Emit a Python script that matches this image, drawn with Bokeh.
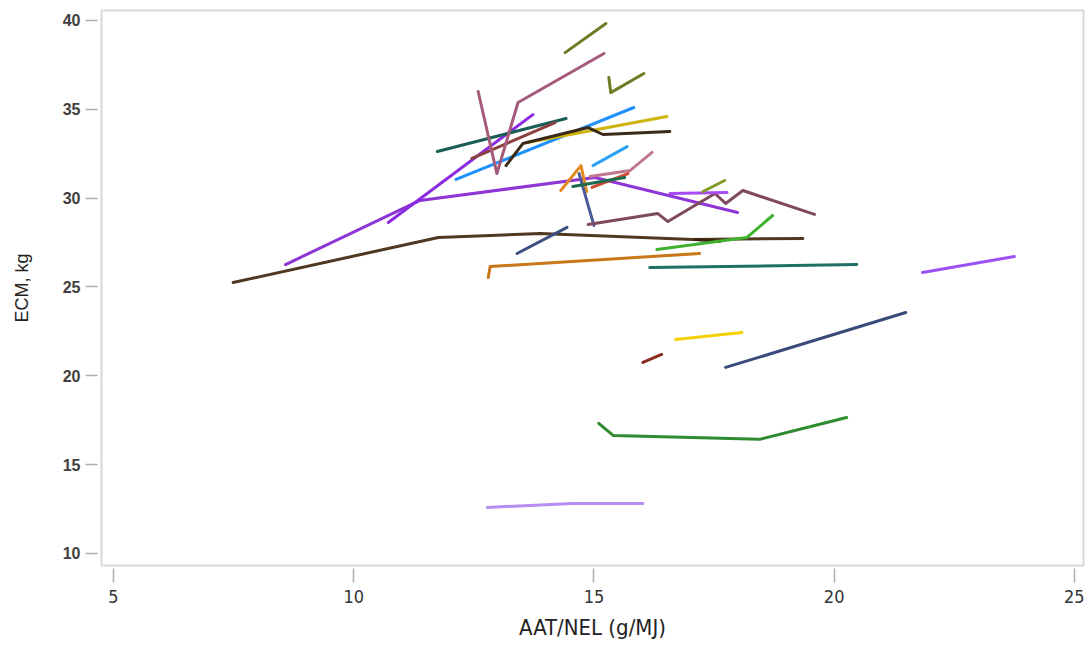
from bokeh.plotting import figure
from bokeh.embed import file_html
from bokeh.resources import INLINE
from bokeh.models import FixedTicker

# ECM yield against AAT/NEL ratio, one trajectory per herd
a01_x = [14.40, 15.25]
a01_y = [38.19, 39.83]
a02_x = [15.31, 15.35, 16.04]
a02_y = [36.79, 35.94, 37.01]
a03_x = [12.59, 12.98, 13.42, 15.21]
a03_y = [36.00, 31.38, 35.38, 38.14]
a04_x = [10.72, 13.73]
a04_y = [28.63, 34.70]
a05_x = [8.58, 11.38, 15.02, 17.99]
a05_y = [26.26, 29.87, 31.16, 29.19]
a06_x = [16.58, 17.77]
a06_y = [30.26, 30.32]
a07_x = [11.74, 14.42]
a07_y = [32.62, 34.48]
a08_x = [12.46, 14.19]
a08_y = [32.23, 34.25]
a09_x = [13.17, 13.52, 14.88, 15.19, 16.58]
a09_y = [31.83, 33.07, 33.97, 33.58, 33.75]
a10_x = [13.61, 16.52]
a10_y = [33.13, 34.59]
a11_x = [12.13, 15.83]
a11_y = [31.05, 35.10]
a12_x = [14.98, 15.69]
a12_y = [31.83, 32.90]
a13_x = [14.92, 15.75, 16.21]
a13_y = [31.22, 31.55, 32.57]
a14_x = [14.31, 14.73, 14.85]
a14_y = [30.43, 31.83, 30.37]
a15_x = [14.69, 15.00]
a15_y = [31.38, 28.46]
a16_x = [14.56, 15.64]
a16_y = [30.65, 31.16]
a17_x = [14.96, 15.71]
a17_y = [30.60, 31.38]
a18_x = [14.88, 16.33, 16.54, 17.52, 17.74, 18.10, 19.59]
a18_y = [28.51, 29.13, 28.68, 30.26, 29.70, 30.43, 29.08]
a19_x = [17.27, 17.72]
a19_y = [30.37, 30.99]
a20_x = [7.49, 11.76, 13.88, 17.06, 19.35]
a20_y = [25.25, 27.78, 28.01, 27.67, 27.73]
a21_x = [17.10, 17.62]
a21_y = [27.67, 27.56]
a22_x = [16.31, 18.18, 18.72]
a22_y = [27.11, 27.78, 29.02]
a23_x = [12.80, 12.84, 17.20]
a23_y = [25.53, 26.15, 26.88]
a24_x = [13.40, 14.44]
a24_y = [26.88, 28.35]
a25_x = [16.16, 20.47]
a25_y = [26.09, 26.26]
a26_x = [21.84, 23.75]
a26_y = [25.81, 26.71]
a27_x = [16.70, 18.08]
a27_y = [22.04, 22.44]
a28_x = [16.02, 16.41]
a28_y = [20.75, 21.20]
a29_x = [17.74, 21.49]
a29_y = [20.47, 23.56]
a30_x = [15.10, 15.40, 18.45, 20.26]
a30_y = [17.32, 16.64, 16.42, 17.65]
a31_x = [12.78, 14.56, 16.02]
a31_y = [12.59, 12.81, 12.81]

x_ticks = [5, 10, 15, 20, 25]
y_ticks = [10, 15, 20, 25, 30, 35, 40]

tracks = [
    (a20_x, a20_y, "#4f3820"), (a21_x, a21_y, "#3a2410"),
    (a23_x, a23_y, "#c87818"), (a25_x, a25_y, "#1f6f66"),
    (a22_x, a22_y, "#40b030"), (a24_x, a24_y, "#3d4f80"),
    (a05_x, a05_y, "#8e35d6"), (a04_x, a04_y, "#8a2be2"),
    (a07_x, a07_y, "#1b5e55"), (a08_x, a08_y, "#8c4040"),
    (a11_x, a11_y, "#1e90ff"), (a10_x, a10_y, "#cdb50a"),
    (a09_x, a09_y, "#3b2a18"), (a03_x, a03_y, "#a55a7c"),
    (a01_x, a01_y, "#6b7d24"), (a02_x, a02_y, "#6b7d24"),
    (a12_x, a12_y, "#2ea0f5"), (a13_x, a13_y, "#c27790"),
    (a14_x, a14_y, "#e08a1e"), (a15_x, a15_y, "#4a5a9a"),
    (a17_x, a17_y, "#d04a30"), (a16_x, a16_y, "#1a6b4a"),
    (a18_x, a18_y, "#7f4a5e"), (a06_x, a06_y, "#a64cf0"),
    (a19_x, a19_y, "#7f9a20"), (a26_x, a26_y, "#9b50f5"),
    (a27_x, a27_y, "#f5d000"), (a28_x, a28_y, "#8b2a20"),
    (a29_x, a29_y, "#3a4a7a"), (a30_x, a30_y, "#2e8b2e"),
    (a31_x, a31_y, "#b68cf5"),
]

p = figure(width=1086, height=646, output_backend="svg", toolbar_location=None,
           x_range=(4.75, 25.19), y_range=(9.32, 40.56),
           min_border_left=101, min_border_right=3, min_border_top=10,
           min_border_bottom=81)

for xs, ys, c in tracks:
    p.line(xs, ys, line_color=c, line_width=3, line_cap="round", line_join="round")

p.grid.visible = False
p.outline_line_color = "#d8d8d8"
p.outline_line_width = 2
p.background_fill_color = "white"
p.border_fill_color = "white"

p.xaxis.ticker = FixedTicker(ticks=x_ticks)
p.yaxis.ticker = FixedTicker(ticks=y_ticks)
for ax in (p.xaxis[0], p.yaxis[0]):
    ax.axis_line_color = None
    ax.minor_tick_line_color = None
    ax.major_tick_line_color = "#b0b0b0"
    ax.major_tick_line_width = 1.5

narrow = "'Liberation Sans Narrow', 'DejaVu Sans Condensed', 'Liberation Sans'"

p.xaxis.major_tick_in = -3
p.xaxis.major_tick_out = 17
p.xaxis.major_label_standoff = 7
p.xaxis.major_label_text_font = narrow
p.xaxis.major_label_text_font_size = "18px"
p.xaxis.major_label_text_color = "#333333"
p.xaxis.axis_label = "AAT/NEL (g/MJ)"
p.xaxis.axis_label_text_font = narrow
p.xaxis.axis_label_text_font_size = "22px"
p.xaxis.axis_label_text_font_style = "normal"
p.xaxis.axis_label_text_color = "#222222"
p.xaxis.axis_label_standoff = 9

p.yaxis.major_tick_in = -4
p.yaxis.major_tick_out = 16
p.yaxis.major_label_standoff = 5
p.yaxis.major_label_text_font = "Liberation Sans"
p.yaxis.major_label_text_font_style = "bold"
p.yaxis.major_label_text_font_size = "16px"
p.yaxis.major_label_text_color = "#404040"
p.yaxis.axis_label = "ECM, kg"
p.yaxis.axis_label_text_font = "Liberation Sans"
p.yaxis.axis_label_text_font_size = "18px"
p.yaxis.axis_label_text_font_style = "normal"
p.yaxis.axis_label_text_color = "#222222"
p.yaxis.axis_label_standoff = 28

open("out.html", "w").write(file_html(p, INLINE))
